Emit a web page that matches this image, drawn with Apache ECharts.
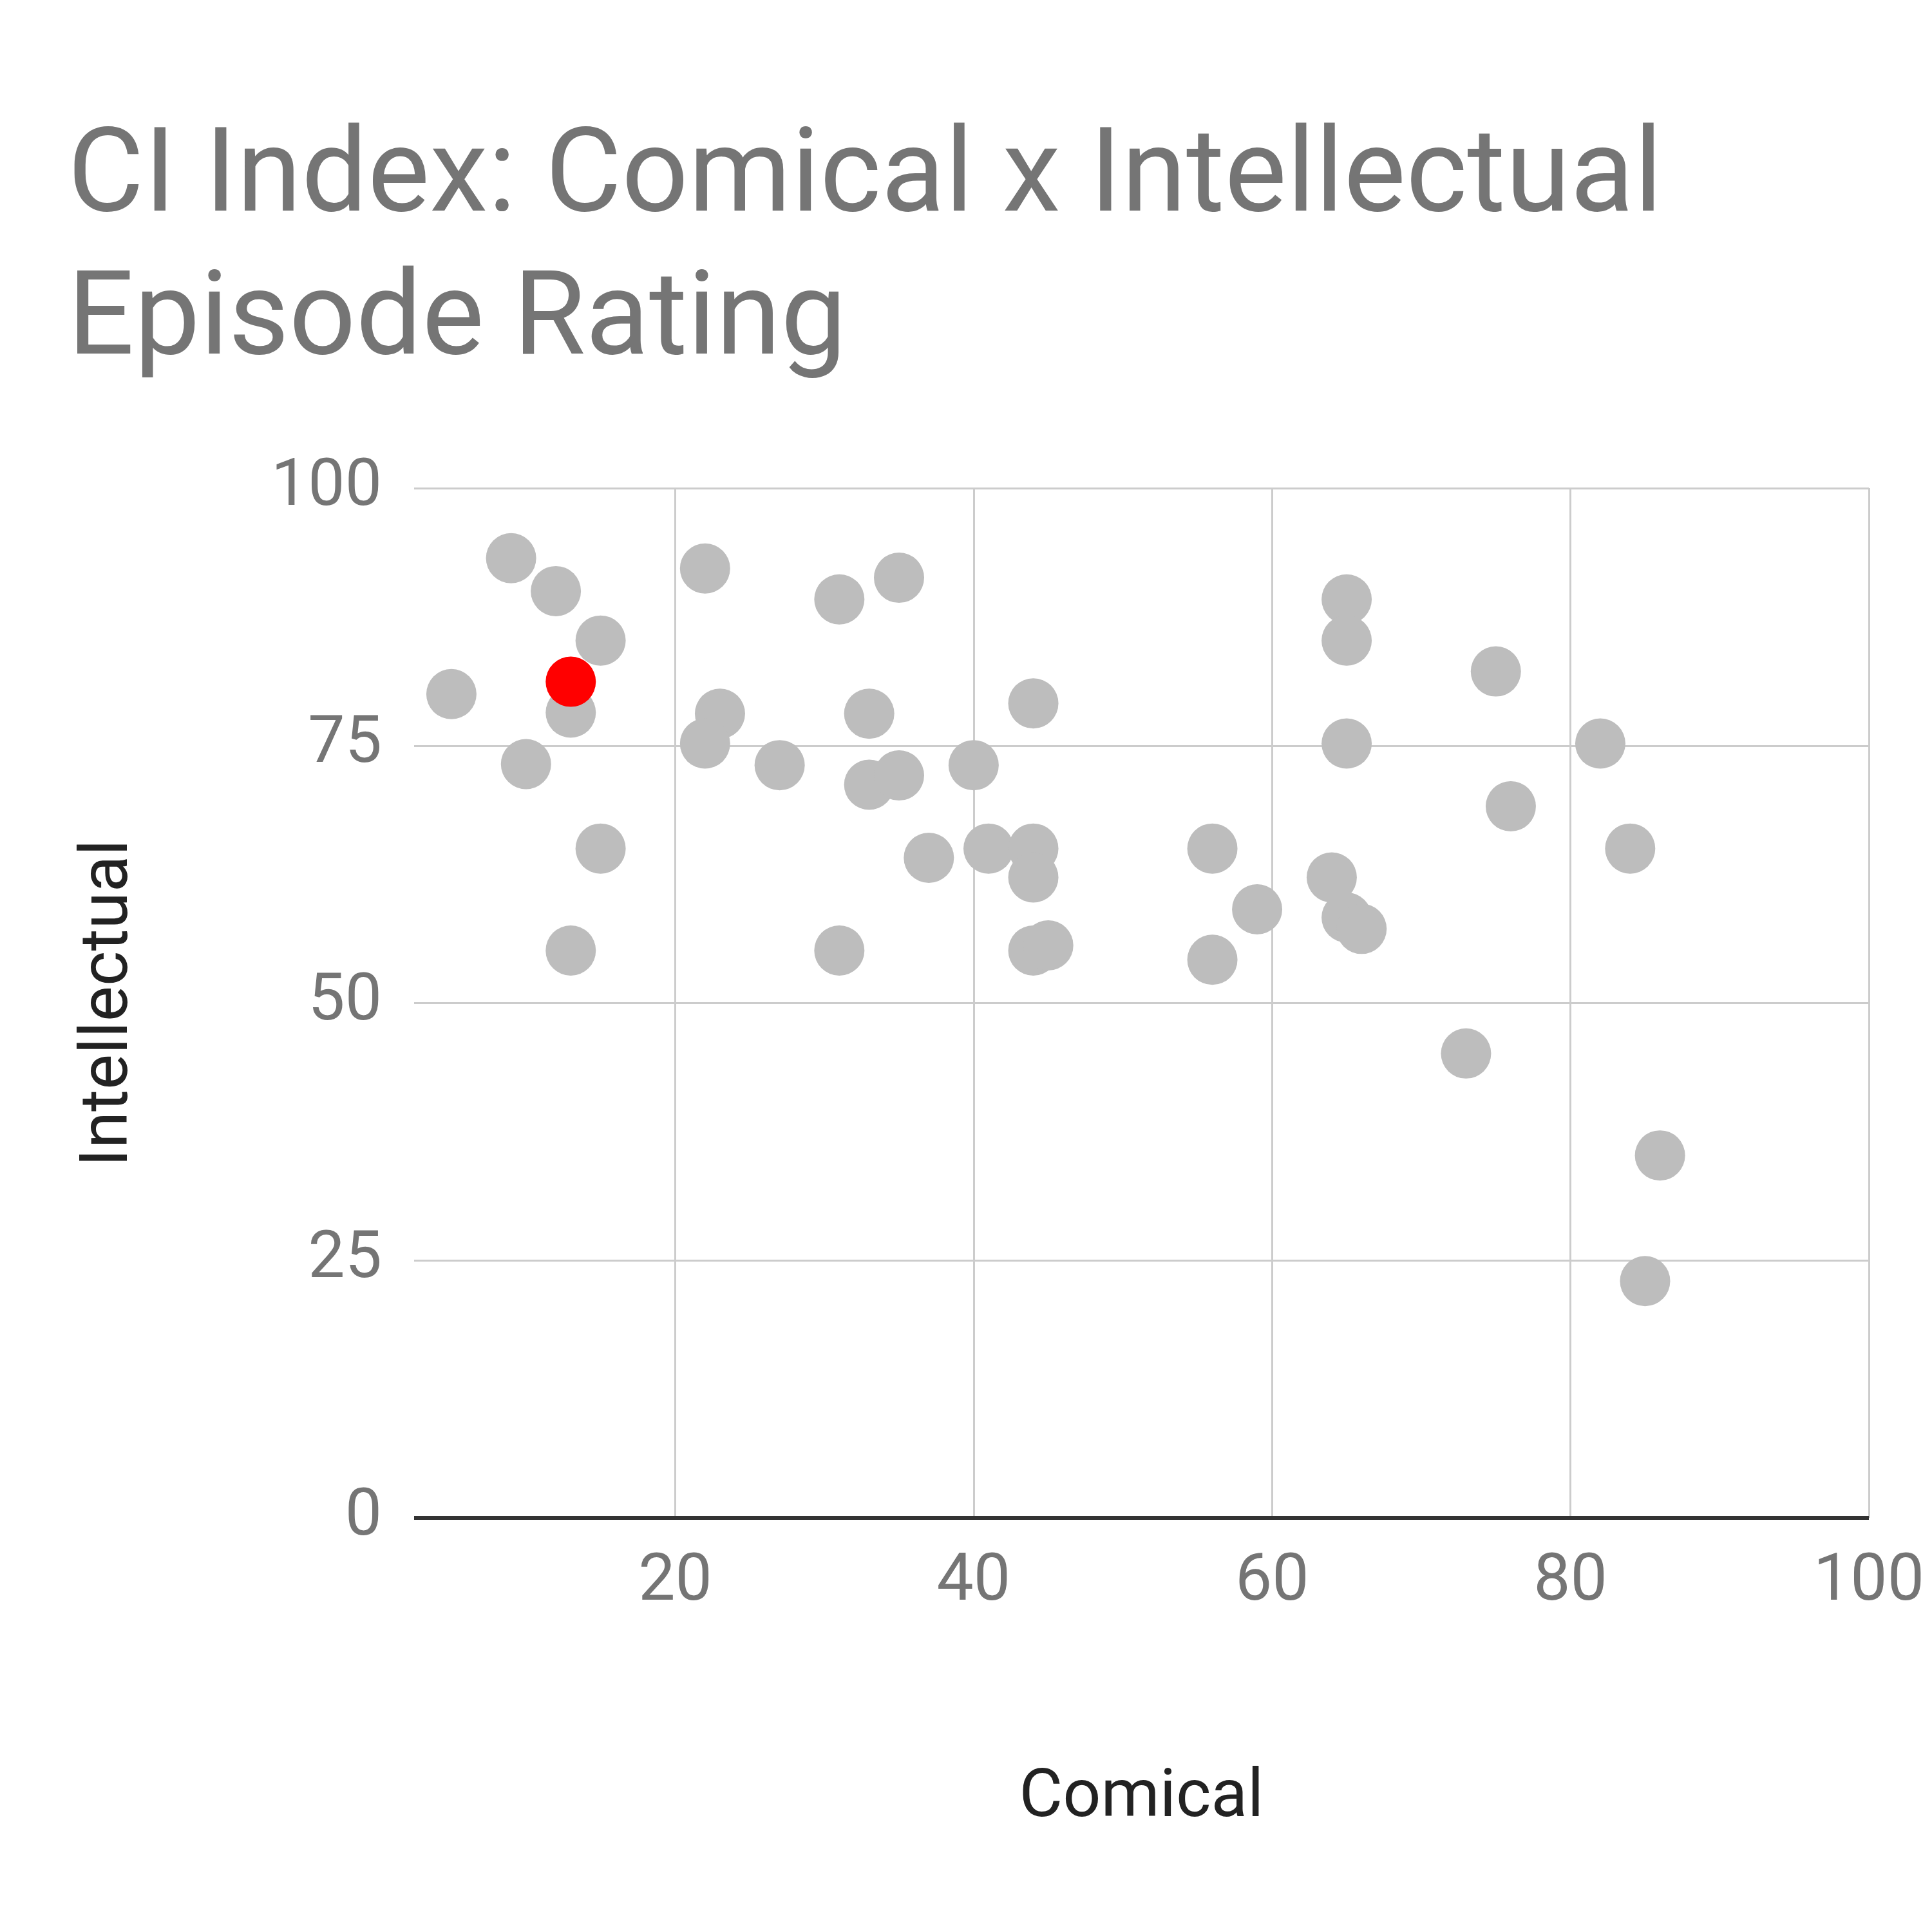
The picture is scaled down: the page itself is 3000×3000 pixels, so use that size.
<!DOCTYPE html>
<html>
<head>
<meta charset="utf-8">
<script src="https://cdn.jsdelivr.net/npm/echarts@6/dist/echarts.min.js"></script>
<style>html,body{margin:0;background:#fff}#chart{width:3000px;height:3000px}</style>
</head>
<body>
<div id="chart"></div>
<script>
// episode ratings: [comical, intellectual]
var episodes = [
  [5, 80], [9, 93.2], [12, 90], [15, 85.2], [13, 78.2], [10, 73.2], [15, 65], [13, 55.1],
  [22, 92.2], [23, 78.1], [22, 75.2], [27, 73.1], [31, 89.2], [35, 91.3], [33, 78.1],
  [33, 71.2], [35, 72.1], [37, 64.1], [40, 73.1], [41, 65], [44, 79.1], [44, 65],
  [44, 62.2], [44, 55.1], [45, 55.6], [31, 55.1], [56, 65], [56, 54.2], [59, 59.1],
  [64, 62.2], [65, 58.3], [66, 57.2], [65, 89.2], [65, 85.2], [65, 75.2], [75, 82.2],
  [76, 69.1], [82, 75.2], [84, 65], [73, 45.1], [86, 35.2], [85, 23]
];
var highlight = [[13, 81.2]];
var xTicks = [20, 40, 60, 80, 100];

var chart = echarts.init(document.getElementById('chart'));
var fontFamily = 'Roboto';
chart.setOption({
  title: {
    text: 'CI Index: Comical x Intellectual\nEpisode Rating',
    left: 100, top: 165,
    textStyle: {fontFamily: fontFamily, fontSize: 182, fontWeight: 'normal', color: '#757575', lineHeight: 222}
  },
  grid: {left: 643, right: 98, top: 758, bottom: 643},
  xAxis: {
    type: 'value', min: 2.5, max: 100,
    name: 'Comical', nameLocation: 'middle', nameGap: 385,
    nameTextStyle: {fontFamily: fontFamily, fontSize: 104, color: '#222'},
    axisLine: {show: false},
    axisTick: {show: false, customValues: xTicks},
    axisLabel: {customValues: xTicks, fontFamily: fontFamily, fontSize: 102, color: '#757575', margin: 50},
    splitLine: {show: true, lineStyle: {color: '#cccccc', width: 3}}
  },
  yAxis: {
    type: 'value', min: 0, max: 100, interval: 25,
    name: 'Intellectual', nameLocation: 'middle', nameGap: 420,
    nameTextStyle: {fontFamily: fontFamily, fontSize: 104, color: '#222'},
    axisLine: {show: false},
    axisTick: {show: false},
    axisLabel: {fontFamily: fontFamily, fontSize: 102, color: '#757575', margin: 50},
    splitLine: {lineStyle: {color: '#cccccc', width: 3}}
  },
  series: [
    {
      type: 'scatter', data: episodes, symbolSize: 78,
      itemStyle: {color: '#bdbdbd', opacity: 1},
      markLine: {
        silent: true, symbol: 'none', label: {show: false},
        lineStyle: {color: '#333', width: 6, type: 'solid'},
        data: [{yAxis: 0}]
      }
    },
    {type: 'scatter', data: highlight, symbolSize: 78, itemStyle: {color: '#ff0000', opacity: 1}}
  ]
});
</script>
</body>
</html>
